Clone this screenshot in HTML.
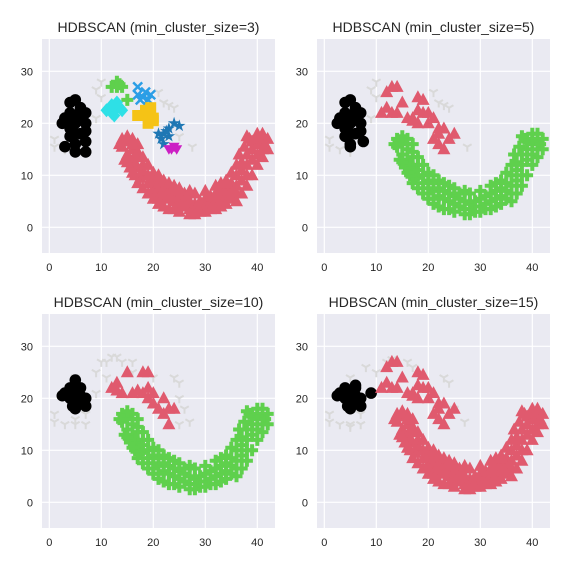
<!DOCTYPE html>
<html><head><meta charset="utf-8">
<style>
html,body{margin:0;padding:0;background:#fff;}
svg{display:block;font-family:"Liberation Sans",sans-serif;}
</style></head>
<body>
<svg id="chart" width="570" height="570" viewBox="0 0 570 570" xmlns="http://www.w3.org/2000/svg"></svg>
<script>
const xTicks=[0,10,20,30,40];
const yTicks=[0,10,20,30];
const titles=["HDBSCAN (min_cluster_size=3)","HDBSCAN (min_cluster_size=5)","HDBSCAN (min_cluster_size=10)","HDBSCAN (min_cluster_size=15)"];
const uShape=[[14,17],[14,15.5],[15,16.5],[15,14],[16,17],[16,15],[16,13],[17,16],[17,13.5],[17,11.5],[16.5,12],[18,12],[18,10],[17.5,9.5],[19,10],[19,8.5],[20,9],[20,7.5],[21,8.5],[21,7],[22,7.5],[22,6],[23,7],[23,5.5],[24,6.5],[24,5],[25,6],[25,4.5],[26,5.5],[26,4],[27,5],[27,3.5],[28,4.5],[28,3.5],[29,5],[29,4],[30,5.5],[30,4],[31,4.5],[31,6],[32,5],[32,6.5],[33,5.5],[33,7],[34,6],[34,7.5],[35,7],[35,8.5],[36,8],[36,10],[37,9],[37,11],[37,12.5],[38,10],[38,12],[38,14],[39,13],[39,15],[39,16.5],[40,14],[40,16],[40,17],[41,15],[41,16.5],[41.5,16],[38.5,17],[18,11],[20,6.5],[36,6.5],[33,8.5],[15,17.5],[21,5.5],[26,6.5],[29,3],[31,3.5],
[13.5,16],[14.5,13],[15.5,11.5],[16.5,10],[17,8.5],[18,7.5],[19,6.5],[20,5.5],[21,4.5],[22,4],[23,3.5],[24,3.5],[25,3],[27,2.5],[28,2.5],[30,3],[32,3.5],[33,4],[34,4.5],[35,5.5],[36,5],[37,6.5],[38,8],[39,10],[40,12],[41,13.5],[42,15],[42,17],[19,12],[20,10.5],[21,10],[22,9],[23,8.5],[24,8],[25,7.5],[27,7],[28,6.5],[30,7],[32,8],[34,9],[35,10.5],[36,12],[36.5,14],[37.5,15.5],[38,17.5],[40,18],[41,18],[17,14.5],[16,16],[18,13.5],[15,12.5],[16,10.5]];
const black1=[[4,24],[5,24.5],[4,22],[3,21],[4,20],[5,20],[4,19],[5,18],[6,18],[6,21],[5,21.5],[7,20],[7,18.5],[6,23],[3,15.5],[5,14.5],[5,16],[7,16.5],[7,14.5],[4,17.5],[2.5,20],[7,22]];
const black2=[[4,24],[5,24.5],[4,22],[3,21],[4,20],[5,20],[4,19],[5,18],[6,18],[6,21],[5,21.5],[7,20],[7,18.5],[6,23],[5,16],[7.5,16.5],[5,15.5],[4,17.5],[2.5,20],[7,22]];
const black3=[[5,23.5],[3,21],[4,21.5],[5,21],[6,22],[6,20.5],[4,20],[5,19],[7,20],[5,18],[7,18.5],[4.5,18.5],[6,19],[4,22],[2.5,20.5]];
const black4=[[5,21],[3,21],[4,21.5],[6,22],[6,20.5],[4,20],[5,19],[7,20],[5,18],[7,18.5],[4.5,18.5],[6,19],[4,22],[9,21],[2.5,20.5],[6,22.5]];
const redArc2=[[11,22],[12,26],[13,27],[14,27],[13,22],[12,23],[14,22],[15,24],[16,21],[17,21],[18,25],[19,24.5],[19,22],[18,22.5],[18,20],[20,20],[21,21],[22,18],[23,19],[22,16],[24,17],[25,18],[23,15],[21,17],[22,19],[17,20.5],[20,22]];
const redArc3=[[12,22],[13,23],[14,21],[15,25],[16,21],[17,21.5],[18,25],[19,25],[18,21],[19,20],[20,19],[21,18],[22,20],[22,17],[23,18],[24,18],[23,15],[19,22],[20,21],[13,21.5]];
const grayA=[[1,17],[1,15.5],[9,26.5],[10,28],[10,25],[9,21],[21,26],[22,24],[23,23.5],[24,23],[25,17.5],[27.5,15.5],[3,15],[5,14.5]];
const grayB=[[1,17],[1,15.5],[3,15],[5,15],[5,14.5],[7,15],[7,17],[8,26],[10,25],[9,21],[12,27],[13,27.5],[16,27],[17,26],[23,24],[24,23],[25,18],[27,15.5],[5,24]];
const grayC=[[1,17],[1,15.5],[3,15],[5,15],[5,16],[7,17],[7,15],[5,24],[9,25],[10,27],[11,27],[12,28],[13,28],[14,27],[16,27],[16,25],[11,24],[9,21],[24,24],[25,23],[25,20],[26,18],[27,15.5],[25,15],[20,24]];
const greenPlus1=[[12,27],[13,28],[14,27],[15,24.5],[13.5,27.5],[13,27]];
const cyanDia1=[[11,22.5],[12,22],[13,23],[12.5,21.5],[14,22.5],[13,24],[12,23.5]];
const blueX1=[[17,27],[18,25],[19,24.5],[18.5,26],[17.5,24.5],[19.5,25.5],[17,25.5]];
const yellowSq1=[[18,21.5],[19,22],[20,21],[19,20],[18.5,22.5],[20,20.5],[17,21.5],[19.5,23]];
const steelStar1=[[22,18],[23,19],[24,20],[22,16],[21.5,17],[23,17.5],[25,19.5],[22.5,18.5],[21,18]];
const magentaTri1=[[23,15],[24,15.5],[23.5,15],[24.5,15]];

const panels=[
 {ox:0,oy:0,groups:[["tri",grayA,"#d9d9d9"],["circle",black1,"#000"],["triup",uShape,"#e05a6e"],["plus",greenPlus1,"#5fd04d"],["diamond",cyanDia1,"#2ee0e6"],["x",blueX1,"#2b9ee6"],["square",yellowSq1,"#f5c316"],["star",steelStar1,"#1f77b4"],["tridown",magentaTri1,"#cc1fc4"]]},
 {ox:275,oy:0,groups:[["tri",grayA,"#d9d9d9"],["circle",black2,"#000"],["triup",redArc2,"#e05a6e"],["plus",uShape,"#5fd04d"]]},
 {ox:0,oy:275,groups:[["tri",grayC,"#d9d9d9"],["circle",black3,"#000"],["triup",redArc3,"#e05a6e"],["plus",uShape,"#5fd04d"]]},
 {ox:275,oy:275,groups:[["tri",grayB,"#d9d9d9"],["circle",black4,"#000"],["triup",redArc2,"#e05a6e"],["triup",uShape,"#e05a6e"]]}
];
const NS="http://www.w3.org/2000/svg";
const svg=document.getElementById('chart');
function mk(tag,attrs,parent){const e=document.createElementNS(NS,tag);for(const k in attrs)e.setAttribute(k,attrs[k]);(parent||svg).appendChild(e);return e;}
const S=5.2;
panels.forEach((p,pi)=>{
 const g=mk('g',{});
 
 
 const L=p.ox+42, T=p.oy+39, W=233, H=214;
 const sx=v=>L+7.3+v*S;
 const sy=v=>T+188.3-v*S;
 const bg=mk('rect',{x:L,y:T,width:W,height:H,fill:'#eaeaf2'},g);
 
 
 xTicks.forEach(t=>{
  const ln=mk('line',{x1:sx(t),x2:sx(t),y1:T,y2:T+H,stroke:'#fff','stroke-width':1.2},g);
  
  
  const tx=mk('text',{x:sx(t),y:T+H+18,'text-anchor':'middle','font-size':11,fill:'#262626'},g);
  tx.textContent=t;
  
  
 });
 yTicks.forEach(t=>{
  const ln=mk('line',{x1:L,x2:L+W,y1:sy(t),y2:sy(t),stroke:'#fff','stroke-width':1.2},g);
  
  
  const tx=mk('text',{x:L-9,y:sy(t)+4,'text-anchor':'end','font-size':11,fill:'#262626'},g);
  tx.textContent=t;
  
  
 });
 const ti=mk('text',{x:L+W/2,y:p.oy+32,'text-anchor':'middle','font-size':14,fill:'#262626'},g);
 ti.textContent=titles[pi];
 
 
 p.groups.forEach(([m,pts,c])=>{
  pts.forEach(([x,y])=>{
   const X=sx(x),Y=sy(y);let e;
   if(m==='circle')e=mk('circle',{cx:X,cy:Y,r:5.8,fill:c},g);
   else if(m==='triup')e=mk('polygon',{points:`${X},${Y-7} ${X-6.5},${Y+5} ${X+6.5},${Y+5}`,fill:c},g);
   else if(m==='tridown')e=mk('polygon',{points:`${X},${Y+5.5} ${X-5.5},${Y-4} ${X+5.5},${Y-4}`,fill:c},g);
   else if(m==='plus')e=mk('path',{d:`M${X-6},${Y}H${X+6}M${X},${Y-6}V${Y+6}`,stroke:c,'stroke-width':4},g);
   else if(m==='x')e=mk('path',{d:`M${X-4.5},${Y-4.5}L${X+4.5},${Y+4.5}M${X-4.5},${Y+4.5}L${X+4.5},${Y-4.5}`,stroke:c,'stroke-width':2.5},g);
   else if(m==='diamond')e=mk('polygon',{points:`${X},${Y-7} ${X+6},${Y} ${X},${Y+7} ${X-6},${Y}`,fill:c},g);
   else if(m==='square')e=mk('rect',{x:X-5.5,y:Y-5.5,width:11,height:11,fill:c},g);
   else if(m==='star'){let s='';for(let k=0;k<10;k++){const r=k%2?2.5:6.5,a=-Math.PI/2+k*Math.PI/5;s+=`${X+r*Math.cos(a)},${Y+r*Math.sin(a)} `;}e=mk('polygon',{points:s,fill:c},g);}
   else e=mk('path',{d:`M${X},${Y}V${Y+5}M${X},${Y}L${X-4.3},${Y-2.5}M${X},${Y}L${X+4.3},${Y-2.5}`,stroke:c,'stroke-width':2,fill:'none'},g);
   
   
  });
 });
});
</script>
</body></html>
